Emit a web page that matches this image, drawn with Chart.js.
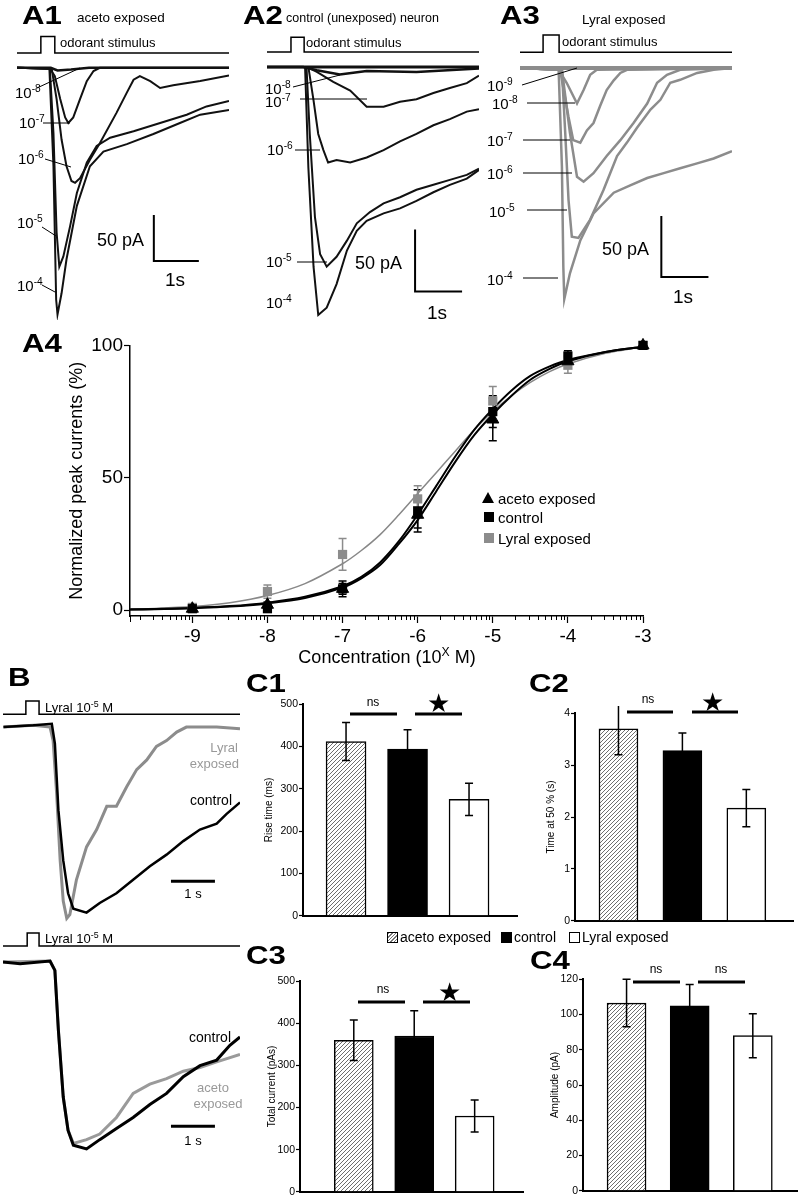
<!DOCTYPE html>
<html lang="en">
<head>
<meta charset="UTF-8">
<title>Odorant exposure - responses</title>
<script src="https://cdn.jsdelivr.net/npm/chart.js"></script>
<style>
  body { margin: 0; background: #fff; font-family: "Liberation Sans", Arial, sans-serif; }
  #fig { position: relative; width: 800px; height: 1200px; overflow: hidden; background: #fff; }
  #fig canvas { position: absolute; }
  .t { position: absolute; white-space: nowrap; line-height: 1; transform: translateY(-50%); color: #000; }
  .t sup { font-size: 68%; vertical-align: 0.55em; line-height: 0; }
  .t.panel { transform: translateY(-50%) scaleX(1.2); transform-origin: left center; }
  #marks { position: absolute; left: 0; top: 0; }
</style>
</head>
<body>
<div id="fig"></div>
<script>
// ---- A4 dose-response (x = log10 concentration) ----
const concX = [-9, -8, -7, -6, -5, -4, -3];
const acetoPeak = [0.5, 2, 8, 36, 72, 94, 100];
const acetoSem = [0.5, 1, 2, 5, 8, 2, 0];
const controlPeak = [0.5, 0.5, 8, 37.5, 75, 96, 100];
const controlSem = [0.5, 1, 3, 8, 6, 2, 0];
const lyralPeak = [1, 7, 21, 42, 79, 92.5, 100];
const lyralSem = [0.5, 2.5, 6, 5, 5.5, 3, 0];

// fitted curves
const fitX = [-9.83, -9.5, -9, -8.5, -8, -7.5, -7, -6.75, -6.5, -6.25, -6, -5.75, -5.5, -5.25, -5, -4.75, -4.5, -4.25, -4, -3.5, -3];
const fitControl = [0.2, 0.4, 0.8, 1.5, 2.8, 5, 9, 12.5, 18, 26, 36, 47, 58, 68, 76, 83, 88.5, 92, 94.5, 97.5, 99.5];
const fitAceto = [0.2, 0.3, 0.7, 1.3, 2.5, 4.5, 8.5, 12, 17, 25, 34, 45, 56, 66, 74, 81, 87, 91, 94, 97.5, 99.5];
const fitLyral = [0.4, 0.6, 1.3, 2.8, 5.5, 10, 17.5, 22.5, 28.5, 36, 44, 52, 60, 68, 75, 81, 86, 90, 93, 97, 99.5];
const concTicks = [-9, -8, -7, -6, -5, -4, -3];
const peakTicks = [0, 50, 100];

// ---- C bar charts: aceto exposed, control, Lyral exposed ----
const groups = ['aceto exposed', 'control', 'Lyral exposed'];
const barX = [1, 2, 3];
const riseTime = [412, 394, 275];
const riseSem = [45, 46, 38];
const time50 = [3.7, 3.28, 2.17];
const time50Sem = [0.5, 0.34, 0.36];
const totalCurrent = [360, 370, 180];
const totalSem = [48, 60, 38];
const amplitude = [106.5, 105, 88];
const amplitudeSem = [13.5, 12, 12.5];

// ---- A1 traces (s, pA), aceto exposed ----
const a1T8 = [0, 0.75, 0.9, 1.2, 1.6, 4.71];
const a1I8 = [0, 0, -3, -2, 0, 0];
const a1T7 = [0, 0.73, 0.84, 0.96, 1.07, 1.14, 1.25, 1.4, 1.55, 1.7, 1.84, 4.71];
const a1I7 = [0, -0.7, -9, -34, -54, -60, -54, -34, -14.5, -3.6, 0, 0];
const a1T6 = [0, 0.77, 0.88, 0.99, 1.1, 1.21, 1.29, 1.4, 1.62, 1.84, 2.21, 2.44, 2.59, 2.73, 2.96, 3.18, 3.47, 4.07, 4.71];
const a1I6 = [0, -1, -34, -78, -107, -123, -125, -120, -100, -82, -49, -27, -13, -9, -14.5, -22, -19, -14.5, -8.3];
const a1T5 = [0, 0.73, 0.81, 0.88, 0.94, 1.03, 1.18, 1.33, 1.55, 1.77, 2.07, 2.59, 3.18, 3.77, 4.21, 4.71];
const a1I5 = [0, -1, -71, -179, -216, -205, -172, -136, -103, -85, -76, -69, -60, -51, -42, -36];
const a1T4 = [0, 0.72, 0.81, 0.87, 0.9, 0.99, 1.1, 1.33, 1.62, 1.92, 2.44, 3.03, 3.62, 4.07, 4.71];
const a1I4 = [0, -1, -107, -252, -268, -245, -208, -150, -107, -91, -83, -72, -60, -51, -46];
const a1StimT = [0, 0.53, 0.53, 0.84, 0.84, 4.71];
const a1StimI = [16, 16, 34, 34, 16, 16];
const a1BarT = [3.04, 3.04, 4.04];
const a1BarI = [-160, -210, -210];

// ---- A2 traces, control neuron ----
const a2T9 = [0, 4.51];
const a2I9 = [0, 0];
const a2T8 = [0, 0.77, 1.06, 1.55, 2.12, 3.18, 4.51];
const a2I8 = [0, 0, -2.7, -6, -3.2, -4, -1.3];
const a2T7 = [0, 0.84, 1.06, 1.41, 1.77, 2.12, 2.48, 2.83, 3.18, 3.54, 3.89, 4.25, 4.51];
const a2I7 = [0, 0, -4, -12, -19, -32, -32, -28, -26, -21, -17, -13, -7];
const a2T6 = [0, 0.88, 0.99, 1.09, 1.2, 1.3, 1.48, 1.77, 2.12, 2.48, 2.83, 3.18, 3.54, 3.89, 4.25, 4.51];
const a2I6 = [0, 0, -27, -54, -67, -77, -75, -77, -73, -67, -60, -54, -47, -42, -36, -34];
const a2T5 = [0, 0.84, 0.91, 1.02, 1.13, 1.27, 1.48, 1.7, 1.91, 2.19, 2.48, 2.83, 3.18, 3.54, 3.89, 4.25, 4.51];
const a2I5 = [0, 0, -54, -121, -151, -161, -153, -140, -126, -117, -110, -105, -99, -95, -91, -87, -82];
const a2T4 = [0, 0.81, 0.88, 0.99, 1.09, 1.27, 1.48, 1.7, 1.91, 2.12, 2.48, 2.83, 3.18, 3.54, 3.89, 4.25, 4.51];
const a2I4 = [0, 0, -81, -161, -200, -194, -175, -148, -132, -124, -118, -114, -108, -101, -95, -90, -83];
const a2StimT = [0, 0.51, 0.51, 0.79, 0.79, 4.51];
const a2StimI = [12, 12, 24, 24, 12, 12];
const a2BarT = [3.15, 3.15, 4.15];
const a2BarI = [-131, -181, -181];

// ---- A3 traces, Lyral exposed ----
const a3T9 = [0, 4.5];
const a3I9 = [0, 0];
const a3T8 = [0, 0.82, 0.99, 1.21, 1.35, 1.49, 1.63, 4.5];
const a3I8 = [0, -1.4, -12, -29, -18, -5.5, -1.4, 0];
const a3T7 = [0, 0.85, 1.03, 1.13, 1.28, 1.42, 1.56, 1.7, 1.84, 1.99, 2.13, 2.27, 4.5];
const a3I7 = [0, -1.4, -40, -59, -61, -51, -45, -31, -18, -10, -4, -1.4, 0];
const a3T6 = [0, 0.89, 1.06, 1.21, 1.35, 1.56, 1.84, 2.13, 2.41, 2.7, 2.91, 3.12, 3.4, 4.5];
const a3I6 = [0, -1.4, -53, -89, -93, -86, -72, -59, -45, -29, -12, -5.5, -1.4, 0];
const a3T5 = [0, 0.89, 0.96, 1.03, 1.1, 1.24, 1.49, 1.77, 2.06, 2.27, 2.48, 2.77, 2.98, 3.19, 3.4, 3.76, 4.11, 4.5];
const a3I5 = [0, -1.4, -53, -108, -138, -139, -124, -100, -72, -61, -49, -34, -26, -12, -9.6, -4, -1.4, 0];
const a3T4 = [0, 0.82, 0.89, 0.92, 0.94, 1.06, 1.28, 1.56, 1.99, 2.34, 2.7, 3.05, 3.4, 3.76, 4.11, 4.5];
const a3I4 = [0, -1.4, -81, -163, -189, -168, -141, -119, -102, -96, -90, -86, -82, -78, -74, -68];
const a3StimT = [0, 0.49, 0.49, 0.83, 0.83, 4.5];
const a3StimI = [13, 13, 27, 27, 13, 13];
const a3BarT = [3, 3, 4];
const a3BarI = [-121, -171, -171];

// ---- B traces, normalized (%) ----
const bLyT = [0.01, 0.69, 1.07, 1.14, 1.22, 1.3, 1.37, 1.45, 1.52, 1.67, 1.9, 2.13, 2.36, 2.58, 2.81, 3.04, 3.27, 3.49, 3.72, 3.95, 4.17, 4.48, 4.86, 5.39];
const bLyI = [0, 0.9, 0, -7, -34.5, -69, -90, -99, -97, -79, -62, -53, -41, -41, -31, -22, -17, -10, -7, -2.6, 0, 0, 0, -0.9];
const bCtT = [0.01, 0.69, 1.11, 1.18, 1.26, 1.37, 1.48, 1.6, 1.9, 2.2, 2.58, 2.96, 3.34, 3.72, 4.1, 4.48, 4.86, 5.08, 5.39];
const bCtI = [0, 0.9, 1.7, -8.6, -43, -69, -86, -94, -96, -91, -86, -79, -72, -66, -59, -53, -50, -45, -39];
const bStimT = [0, 0.52, 0.52, 0.82, 0.82, 5.39];
const bStimI = [6.7, 6.7, 13.5, 13.5, 6.7, 6.7];
const bBarT = [3.82, 4.82];
const bBarI = [-79.8, -79.8];

const b2CtT = [0, 0.39, 1.07, 1.18, 1.26, 1.37, 1.48, 1.6, 1.9, 2.2, 2.58, 2.96, 3.34, 3.72, 4.1, 4.48, 4.86, 5.16, 5.39];
const b2CtI = [0, -0.9, 0.5, -4.5, -37, -73, -91, -99, -101, -96, -90, -84, -77, -71, -62, -56, -53, -45, -40.5];
const b2AcT = [0, 1.07, 1.18, 1.26, 1.37, 1.48, 1.6, 1.9, 2.2, 2.58, 2.96, 3.34, 3.72, 4.1, 4.48, 4.86, 5.39];
const b2AcI = [0, 0.5, -4.5, -37, -73, -91, -98, -96, -93, -84, -71, -66, -63, -59, -57, -54, -50];
const b2StimT = [0, 0.55, 0.55, 0.82, 0.82, 5.39];
const b2StimI = [8.7, 8.7, 15.7, 15.7, 8.7, 8.7];
const b2BarT = [3.82, 4.82];
const b2BarI = [-88.8, -88.8];

const GREY = '#8c8c8c';
const fig = document.getElementById('fig');

function pts(xs, ys) { return xs.map((x, i) => ({ x: x, y: ys[i] })); }

function addCanvas(left, top, w, h) {
  const c = document.createElement('canvas');
  c.width = w; c.height = h;
  c.style.left = left + 'px'; c.style.top = top + 'px';
  c.style.width = w + 'px'; c.style.height = h + 'px';
  fig.appendChild(c);
  return c;
}

function label(x, cy, html, size, o) {
  o = o || {};
  const d = document.createElement('div');
  d.className = 't';
  d.innerHTML = html;
  d.style.fontSize = size + 'px';
  d.style.top = cy + 'px';
  if (o.bold) { d.style.fontWeight = 'bold'; d.classList.add('panel'); }
  if (o.color) d.style.color = o.color;
  if (o.align === 'r') d.style.right = (800 - x) + 'px';
  else if (o.align === 'c') { d.style.left = x + 'px'; d.style.transform = 'translate(-50%,-50%)'; }
  else d.style.left = x + 'px';
  fig.appendChild(d);
}

// error bars from ds.err, drawn under or over the marks
const errorBars = {
  id: 'errorBars',
  draw(chart) {
    const ctx = chart.ctx, ys = chart.scales.y;
    chart.data.datasets.forEach((ds, i) => {
      if (!ds.err) return;
      const meta = chart.getDatasetMeta(i);
      ctx.save();
      ctx.lineWidth = ds.errWidth || 1.5;
      meta.data.forEach((el, j) => {
        const e = ds.err[j];
        if (!e) return;
        const v = ds.data[j].y, cw = ds.capW || 4;
        const y1 = ys.getPixelForValue(v + e), y2 = ys.getPixelForValue(v - e);
        ctx.strokeStyle = ds.errColor || '#000';
        ctx.beginPath();
        ctx.moveTo(el.x, y1); ctx.lineTo(el.x, y2);
        ctx.moveTo(el.x - cw, y1); ctx.lineTo(el.x + cw, y1);
        ctx.moveTo(el.x - cw, y2); ctx.lineTo(el.x + cw, y2);
        ctx.stroke();
      });
      ctx.restore();
    });
  },
  beforeDatasetsDraw(chart) { if (chart.options.plugins.errorBars.under) this.draw(chart); },
  afterDatasetsDraw(chart) { if (!chart.options.plugins.errorBars.under) this.draw(chart); }
};

// log-spaced minor ticks between decades on the A4 x axis
const minorTicks = {
  id: 'minorTicks',
  afterDraw(chart) {
    const xs = chart.scales.x, ctx = chart.ctx, y0 = chart.chartArea.bottom;
    ctx.save();
    ctx.strokeStyle = '#000'; ctx.lineWidth = 1;
    for (let d = -10; d < -3; d++) {
      for (let k = 2; k < 10; k++) {
        const v = d + Math.log10(k);
        if (v < xs.min || v > xs.max) continue;
        const px = Math.round(xs.getPixelForValue(v)) + 0.5;
        ctx.beginPath(); ctx.moveTo(px, y0); ctx.lineTo(px, y0 + 4); ctx.stroke();
      }
    }
    // tick at the left end of the axis
    const x0 = Math.round(chart.chartArea.left) + 0.5;
    ctx.beginPath(); ctx.moveTo(x0, y0); ctx.lineTo(x0, y0 + 6); ctx.stroke();
    ctx.restore();
  }
};

function traceChart(left, top, w, h, xmax, ymin, ymax, sets) {
  const c = addCanvas(left, top, w, h);
  new Chart(c, {
    type: 'scatter',
    data: {
      datasets: sets.map(s => ({
        data: pts(s.t, s.i), showLine: true, borderColor: s.c, borderWidth: s.w,
        pointRadius: 0, tension: 0, fill: false
      }))
    },
    options: {
      responsive: false, animation: false, events: [],
      layout: { padding: 0 },
      plugins: { legend: { display: false }, tooltip: { enabled: false } },
      scales: {
        x: { type: 'linear', display: false, min: 0, max: xmax },
        y: { display: false, min: ymin, max: ymax }
      }
    }
  });
}

const K = '#111';
traceChart(17, 30, 212, 290, 4.71, -274, 41, [
  { t: a1StimT, i: a1StimI, c: '#000', w: 1.5 },
  { t: a1BarT, i: a1BarI, c: '#000', w: 2 },
  { t: a1T8, i: a1I8, c: K, w: 2.5 },
  { t: a1T7, i: a1I7, c: K, w: 2 },
  { t: a1T6, i: a1I6, c: K, w: 2 },
  { t: a1T5, i: a1I5, c: K, w: 2 },
  { t: a1T4, i: a1I4, c: K, w: 2 }
]);
traceChart(267, 30, 212, 295, 4.51, -208, 29.8, [
  { t: a2StimT, i: a2StimI, c: '#000', w: 1.5 },
  { t: a2BarT, i: a2BarI, c: '#000', w: 2 },
  { t: a2T9, i: a2I9, c: K, w: 3 },
  { t: a2T8, i: a2I8, c: K, w: 2.5 },
  { t: a2T7, i: a2I7, c: K, w: 2 },
  { t: a2T6, i: a2I6, c: K, w: 2 },
  { t: a2T5, i: a2I5, c: K, w: 2 },
  { t: a2T4, i: a2I4, c: K, w: 2 }
]);
traceChart(520, 28, 212, 282, 4.5, -198, 32.8, [
  { t: a3StimT, i: a3StimI, c: '#000', w: 1.5 },
  { t: a3BarT, i: a3BarI, c: '#000', w: 2 },
  { t: a3T9, i: a3I9, c: GREY, w: 4 },
  { t: a3T8, i: a3I8, c: GREY, w: 2.5 },
  { t: a3T7, i: a3I7, c: GREY, w: 2.5 },
  { t: a3T6, i: a3I6, c: GREY, w: 2.5 },
  { t: a3T5, i: a3I5, c: GREY, w: 2.5 },
  { t: a3T4, i: a3I4, c: GREY, w: 2.5 }
]);
traceChart(3, 695, 237, 235, 5.39, -105, 16.6, [
  { t: bStimT, i: bStimI, c: '#000', w: 1.5 },
  { t: bBarT, i: bBarI, c: '#000', w: 3 },
  { t: bCtT, i: bCtI, c: '#000', w: 2.5 },
  { t: bLyT, i: bLyI, c: GREY, w: 3 }
]);
traceChart(3, 925, 237, 235, 5.39, -107, 20, [
  { t: b2StimT, i: b2StimI, c: '#000', w: 1.5 },
  { t: b2BarT, i: b2BarI, c: '#000', w: 3 },
  { t: b2CtT, i: b2CtI, c: '#000', w: 3 },
  { t: b2AcT, i: b2AcI, c: '#9a9a9a', w: 3 }
]);

// ---- A4 ----
(function () {
  const c = addCanvas(66, 333, 592, 333);
  new Chart(c, {
    type: 'scatter',
    data: {
      datasets: [
        { data: pts(concX, acetoPeak), err: acetoSem, pointStyle: 'triangle', pointRadius: 7, backgroundColor: '#000', borderColor: '#000', borderWidth: 1, clip: false },
        { data: pts(concX, controlPeak), err: controlSem, pointStyle: 'rect', pointRadius: 6.5, backgroundColor: '#000', borderColor: '#000', borderWidth: 0, clip: false },
        { data: pts(concX, lyralPeak), err: lyralSem, errColor: GREY, pointStyle: 'rect', pointRadius: 6.5, backgroundColor: GREY, borderColor: GREY, borderWidth: 0, clip: false },
        { data: pts(fitX, fitAceto), showLine: true, pointRadius: 0, borderColor: '#000', borderWidth: 2, tension: 0.3 },
        { data: pts(fitX, fitControl), showLine: true, pointRadius: 0, borderColor: '#000', borderWidth: 2, tension: 0.3 },
        { data: pts(fitX, fitLyral), showLine: true, pointRadius: 0, borderColor: '#888', borderWidth: 1.5, tension: 0.3 }
      ]
    },
    options: {
      responsive: false, animation: false, events: [],
      layout: { padding: { top: 10, right: 15, bottom: 0, left: 0 } },
      plugins: { legend: { display: false }, tooltip: { enabled: false }, errorBars: { under: true } },
      scales: {
        x: {
          type: 'linear', min: -9.83, max: -3,
          afterBuildTicks(s) { s.ticks = concTicks.map(v => ({ value: v })); },
          afterFit(s) { s.height = 50; },
          ticks: { color: '#000', font: { size: 19, family: 'Liberation Sans' }, padding: 2, maxRotation: 0 },
          grid: { drawOnChartArea: false, tickLength: 7, color: '#000', tickWidth: 1.2 },
          border: { color: '#000', width: 1.5 }
        },
        y: {
          min: -2.25, max: 100,
          afterBuildTicks(s) { s.ticks = peakTicks.map(v => ({ value: v })); },
          afterFit(s) { s.width = 64; },
          ticks: { color: '#000', font: { size: 19, family: 'Liberation Sans' }, padding: 1 },
          grid: { drawOnChartArea: false, tickLength: 6, color: '#000', tickWidth: 1.2 },
          border: { color: '#000', width: 1.5 },
          title: { display: true, text: 'Normalized peak currents (%)', color: '#000', font: { size: 18, family: 'Liberation Sans' }, padding: { top: 0, bottom: 2 } }
        }
      }
    },
    plugins: [errorBars, minorTicks]
  });
})();

// ---- C bar charts ----
function makeHatch() {
  const p = document.createElement('canvas');
  p.width = 4; p.height = 4;
  const g = p.getContext('2d');
  g.fillStyle = '#fff'; g.fillRect(0, 0, 4, 4);
  g.strokeStyle = '#6e6e6e'; g.lineWidth = 1;
  g.beginPath();
  g.moveTo(0, 4); g.lineTo(4, 0);
  g.moveTo(-1, 1); g.lineTo(1, -1);
  g.moveTo(3, 5); g.lineTo(5, 3);
  g.stroke();
  return g.createPattern(p, 'repeat');
}
const hatch = makeHatch();

function barChart(cfg) {
  const pad = 6;
  const c = addCanvas(cfg.left, cfg.top - pad, cfg.right - cfg.left + pad, cfg.zero - cfg.top + 2 * pad);
  new Chart(c, {
    type: 'bar',
    data: {
      datasets: [{
        data: pts(barX, cfg.vals), err: cfg.errs, capW: 4,
        backgroundColor: [hatch, '#000', '#fff'], borderColor: '#000', borderWidth: 1.5,
        barThickness: cfg.bw
      }]
    },
    options: {
      responsive: false, animation: false, events: [],
      layout: { padding: { top: pad, bottom: pad, left: 0, right: pad } },
      plugins: { legend: { display: false }, tooltip: { enabled: false }, errorBars: { under: false } },
      scales: {
        x: {
          type: 'linear', offset: false, min: cfg.xmin, max: cfg.xmax,
          ticks: { display: false }, grid: { display: false },
          border: { color: '#000', width: 2 },
          afterFit(s) { s.height = 0; }
        },
        y: {
          min: 0, max: cfg.ymax,
          ticks: { stepSize: cfg.step, color: '#000', font: { size: 10.5, family: 'Liberation Sans' }, padding: 1 },
          grid: { drawOnChartArea: false, tickLength: 4, color: '#000', tickWidth: 1.2 },
          border: { color: '#000', width: 2 },
          title: { display: true, text: cfg.title, color: '#000', font: { size: 10, family: 'Liberation Sans' }, padding: { top: 0, bottom: 2 } },
          afterFit(s) { s.width = cfg.axis - cfg.left; }
        }
      }
    },
    plugins: [errorBars]
  });
}

barChart({ left: 263, axis: 303, right: 517, top: 703, zero: 917, ymax: 500, step: 100, xmin: 0.3, xmax: 3.78, bw: 40, vals: riseTime, errs: riseSem, title: 'Rise time (ms)' });
barChart({ left: 545, axis: 575, right: 793, top: 712, zero: 922, ymax: 4, step: 1, xmin: 0.32, xmax: 3.73, bw: 39, vals: time50, errs: time50Sem, title: 'Time at 50 % (s)' });
barChart({ left: 266, axis: 300, right: 523, top: 980, zero: 1193, ymax: 500, step: 100, xmin: 0.11, xmax: 3.8, bw: 39, vals: totalCurrent, errs: totalSem, title: 'Total current (pAs)' });
barChart({ left: 549, axis: 583, right: 797, top: 978, zero: 1192, ymax: 120, step: 20, xmin: 0.31, xmax: 3.7, bw: 39, vals: amplitude, errs: amplitudeSem, title: 'Amplitude (pA)' });

// ---- leader lines and significance bars ----
const leaders = [
  [37, 88, 80, 68], [43, 123, 70, 123], [45, 159, 71, 167], [42, 227, 56, 236], [42, 285, 55, 292],
  [293, 87, 340, 75], [300, 99, 367, 99], [295, 150, 320, 150], [297, 262, 327, 262],
  [522, 85, 577, 68], [527, 103, 575, 103], [523, 140, 570, 140], [523, 173, 572, 173], [527, 210, 567, 210], [523, 278, 558, 278]
];
const sigBars = [
  [350, 397, 714], [415, 462, 714], [627, 673, 712], [692, 738, 712],
  [358, 405, 1002], [423, 470, 1002], [633, 680, 982], [698, 745, 982]
];
let svg = '<svg id="marks" width="800" height="1200" xmlns="http://www.w3.org/2000/svg">';
leaders.forEach(l => { svg += `<line x1="${l[0]}" y1="${l[1]}" x2="${l[2]}" y2="${l[3]}" stroke="#000" stroke-width="1"/>`; });
sigBars.forEach(b => { svg += `<line x1="${b[0]}" y1="${b[2]}" x2="${b[1]}" y2="${b[2]}" stroke="#000" stroke-width="3"/>`; });
svg += '</svg>';
fig.insertAdjacentHTML('beforeend', svg);

// ---- text ----
const sup = (e) => '10<sup>' + e + '</sup>';
label(22, 15, 'A1', 26, { bold: true });
label(77, 18, 'aceto exposed', 13.5);
label(60, 42, 'odorant stimulus', 13);
label(15, 92, sup('-8'), 15); label(19, 122, sup('-7'), 15); label(18, 158, sup('-6'), 15);
label(17, 222, sup('-5'), 15); label(17, 285, sup('-4'), 15);
label(97, 240, '50 pA', 18); label(165, 279, '1s', 19);

label(243, 15, 'A2', 26, { bold: true });
label(286, 18, 'control (unexposed) neuron', 12.5);
label(306, 42, 'odorant stimulus', 13);
label(265, 88, sup('-8'), 15); label(265, 101, sup('-7'), 15); label(267, 149, sup('-6'), 15);
label(266, 261, sup('-5'), 15); label(266, 302, sup('-4'), 15);
label(355, 263, '50 pA', 18); label(427, 312, '1s', 19);

label(500, 15, 'A3', 26, { bold: true });
label(582, 20, 'Lyral exposed', 13.5);
label(562, 41, 'odorant stimulus', 13);
label(487, 85, sup('-9'), 15); label(492, 103, sup('-8'), 15); label(487, 140, sup('-7'), 15);
label(487, 173, sup('-6'), 15); label(489, 211, sup('-5'), 15); label(487, 279, sup('-4'), 15);
label(602, 249, '50 pA', 18); label(673, 296, '1s', 19);

label(22, 343, 'A4', 26, { bold: true });
label(387, 657, 'Concentration (10<sup>X</sup> M)', 18, { align: 'c' });
// A4 legend
fig.insertAdjacentHTML('beforeend',
  '<div style="position:absolute;left:482px;top:492px;width:0;height:0;border-left:6px solid transparent;border-right:6px solid transparent;border-bottom:11px solid #000"></div>' +
  '<div style="position:absolute;left:484px;top:512px;width:10px;height:10px;background:#000"></div>' +
  '<div style="position:absolute;left:484px;top:533px;width:10px;height:10px;background:' + GREY + '"></div>');
label(498, 498, groups[0], 15); label(498, 517, groups[1], 15); label(498, 538, groups[2], 15);

label(8, 677, 'B', 26, { bold: true });
label(45, 707, 'Lyral ' + sup('-5') + ' M', 13);
label(238, 747, 'Lyral', 13, { align: 'r', color: '#999' });
label(239, 763, 'exposed', 13, { align: 'r', color: '#999' });
label(232, 800, 'control', 14, { align: 'r' });
label(193, 893, '1 s', 13, { align: 'c' });
label(45, 938, 'Lyral ' + sup('-5') + ' M', 13);
label(231, 1037, 'control', 14, { align: 'r' });
label(213, 1087, 'aceto', 13, { align: 'c', color: '#999' });
label(218, 1103, 'exposed', 13, { align: 'c', color: '#999' });
label(193, 1140, '1 s', 13, { align: 'c' });

label(246, 683, 'C1', 26, { bold: true });
label(529, 683, 'C2', 26, { bold: true });
label(246, 955, 'C3', 26, { bold: true });
label(530, 960, 'C4', 26, { bold: true });
label(373, 702, 'ns', 12, { align: 'c' }); label(438, 703, '★', 26, { align: 'c' });
label(648, 699, 'ns', 12, { align: 'c' }); label(712, 702, '★', 26, { align: 'c' });
label(383, 989, 'ns', 12, { align: 'c' }); label(449, 992, '★', 26, { align: 'c' });
label(656, 969, 'ns', 12, { align: 'c' }); label(721, 969, 'ns', 12, { align: 'c' });

// C legend
fig.insertAdjacentHTML('beforeend',
  '<div style="position:absolute;left:387px;top:932px;width:9px;height:9px;border:1px solid #000;background:repeating-linear-gradient(-45deg,#fff 0 1.5px,#777 1.5px 2.5px)"></div>' +
  '<div style="position:absolute;left:501px;top:932px;width:11px;height:11px;background:#000"></div>' +
  '<div style="position:absolute;left:569px;top:932px;width:9px;height:9px;border:1px solid #000;background:#fff"></div>');
label(400, 937, groups[0], 14); label(514, 937, groups[1], 14); label(582, 937, groups[2], 14);
</script>
</body>
</html>
